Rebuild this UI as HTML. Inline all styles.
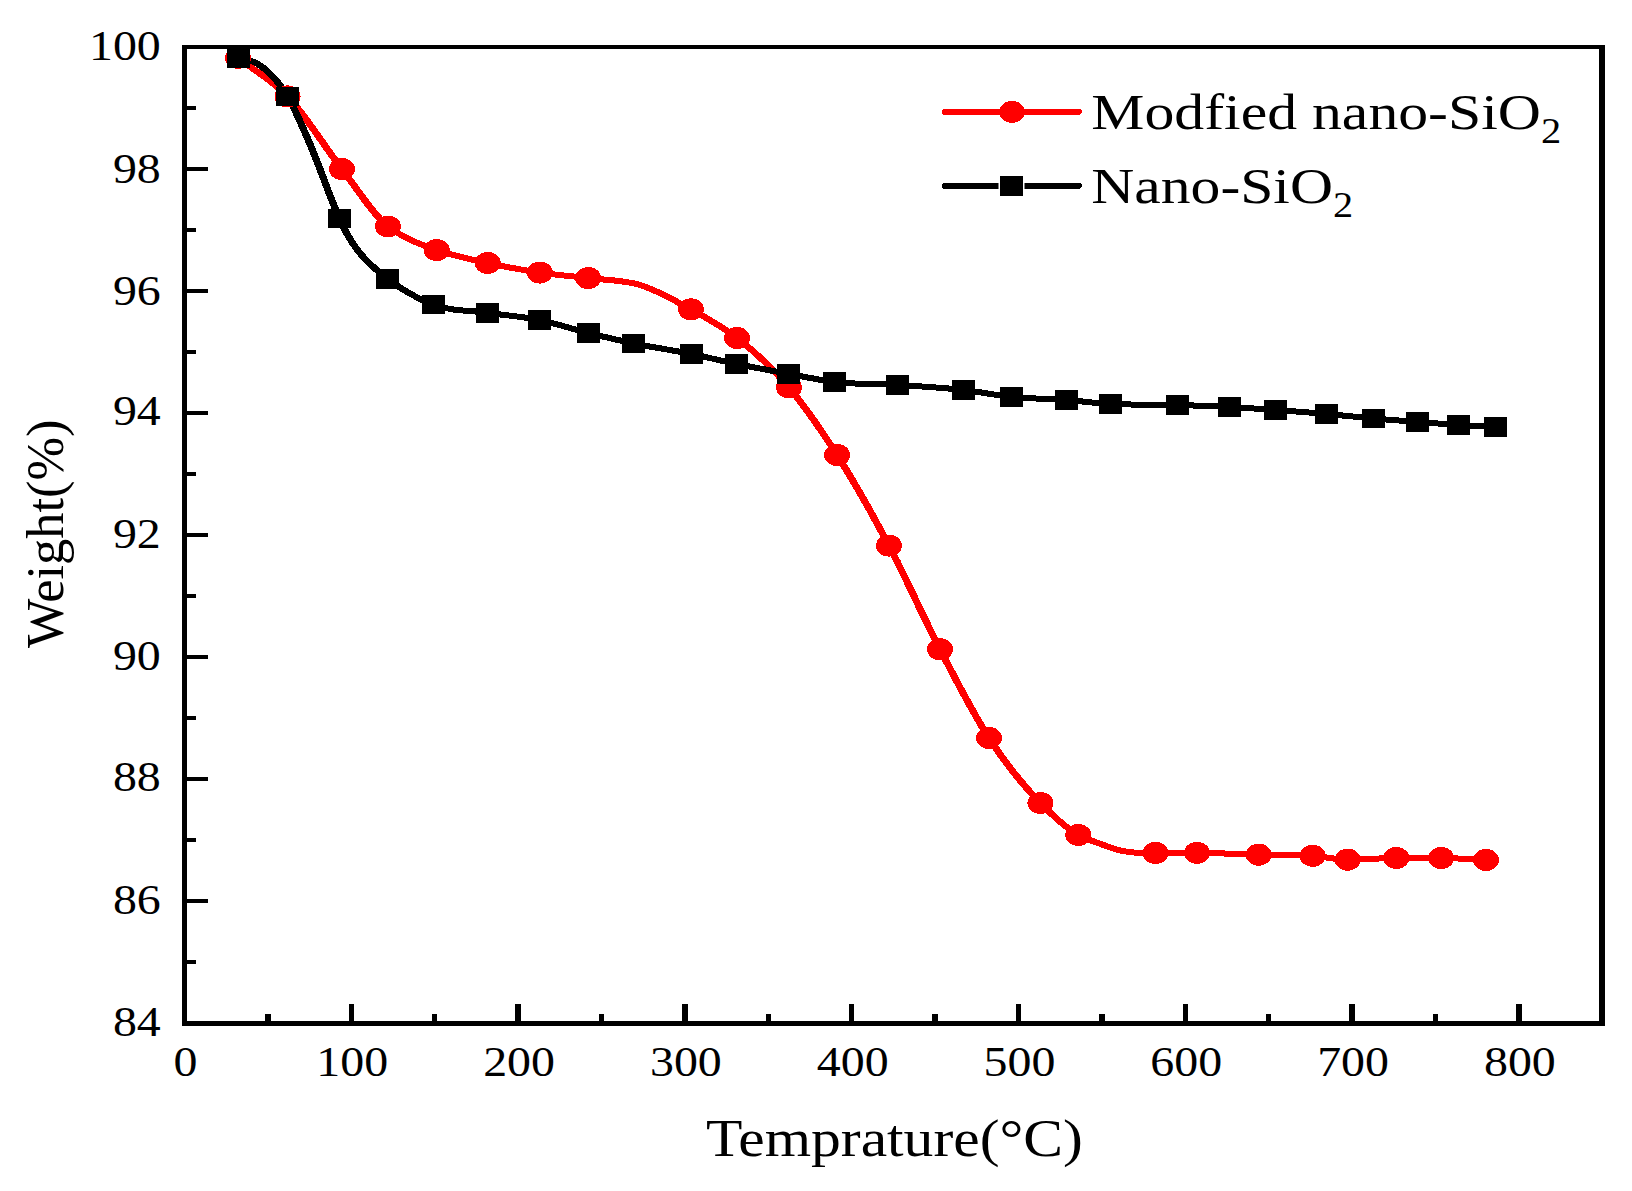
<!DOCTYPE html>
<html lang="en"><head><meta charset="utf-8"><title>TGA curves</title>
<style>html,body{margin:0;padding:0;background:#fff}body{width:1632px;height:1191px;overflow:hidden}svg{display:block}text{font-family:"Liberation Serif","Times New Roman",serif;fill:#000}</style>
</head><body>
<svg width="1632" height="1191" viewBox="0 0 1632 1191">
<rect x="0" y="0" width="1632" height="1191" fill="#fff"/>
<g transform="scale(1.2 1)" fill="none" stroke-width="6" stroke-linejoin="round" stroke-linecap="butt" shape-rendering="crispEdges">
<path stroke="#ff0000" d="M198.33 57.90 C212.11 70.73 225.89 79.14 239.67 96.40 C254.75 115.30 269.83 145.68 284.92 169.00 C297.72 188.80 310.53 214.07 323.33 226.50 C329.97 232.94 336.61 236.52 343.25 240.40 C350.17 244.45 357.08 247.24 364.00 250.10 C378.17 255.96 392.33 259.28 406.50 263.00 C420.94 266.80 435.39 270.04 449.83 272.60 C463.28 274.99 476.72 276.11 490.17 278.10 C504.56 280.23 518.94 279.70 533.33 285.00 C547.50 290.22 561.67 299.99 575.83 309.40 C588.61 317.89 601.39 326.09 614.17 338.00 C628.61 351.46 643.06 366.94 657.50 387.50 C670.86 406.52 684.22 429.86 697.58 455.00 C712.00 482.13 726.42 512.89 740.83 545.60 C755.00 577.74 769.17 616.67 783.33 649.30 C796.94 680.65 810.56 712.78 824.17 738.00 C838.44 764.45 852.72 785.48 867.00 803.00 C877.53 815.92 888.06 827.89 898.58 835.00 C904.69 839.13 910.81 841.11 916.92 843.80 C922.53 846.27 928.14 849.08 933.75 850.60 C939.33 852.11 944.92 852.90 950.50 852.90 C954.64 852.90 958.78 852.90 962.92 852.90 C974.44 852.90 985.97 852.90 997.50 852.90 C1014.64 852.90 1031.78 854.20 1048.92 854.70 C1063.89 855.14 1078.86 854.70 1093.83 855.80 C1103.58 856.52 1113.33 859.70 1123.08 859.70 C1136.58 859.70 1150.08 858.00 1163.58 858.00 C1176.03 858.00 1188.47 858.00 1200.92 858.00 C1213.39 858.00 1225.86 859.33 1238.33 860.00"/>
<path stroke="#000" d="M198.75 57.90 C204.11 59.90 209.47 59.95 214.83 63.90 C217.64 65.97 220.44 68.61 223.25 71.70 C225.69 74.39 228.14 77.34 230.58 80.90 C233.61 85.31 236.64 90.40 239.67 96.40 C246.08 109.12 252.50 128.01 258.92 145.80 C266.92 167.98 274.92 197.85 282.92 218.50 C285.03 223.95 287.14 229.45 289.25 234.10 C292.22 240.65 295.19 245.79 298.17 250.50 C300.97 254.94 303.78 258.33 306.58 261.80 C312.08 268.60 317.58 273.72 323.08 278.80 C335.81 290.56 348.53 298.98 361.25 304.70 C376.25 311.45 391.25 310.20 406.25 312.80 C420.67 315.30 435.08 316.47 449.50 320.00 C463.08 323.33 476.67 328.97 490.25 333.00 C502.81 336.73 515.36 340.25 527.92 343.40 C544.03 347.45 560.14 350.05 576.25 354.00 C588.83 357.08 601.42 360.89 614.00 364.00 C628.36 367.55 642.72 370.64 657.08 373.80 C669.89 376.62 682.69 380.11 695.50 382.00 C712.97 384.58 730.44 383.71 747.92 385.00 C766.25 386.35 784.58 387.47 802.92 390.00 C816.25 391.84 829.58 395.25 842.92 396.90 C858.19 398.79 873.47 398.62 888.75 400.00 C901.08 401.11 913.42 403.33 925.75 404.00 C944.11 405.00 962.47 404.38 980.83 405.00 C995.42 405.49 1010.00 406.08 1024.58 407.00 C1037.36 407.81 1050.14 408.91 1062.92 410.00 C1077.11 411.22 1091.31 412.51 1105.50 414.00 C1118.56 415.37 1131.61 417.13 1144.67 418.50 C1156.89 419.78 1169.11 420.90 1181.33 422.00 C1192.72 423.02 1204.11 424.05 1215.50 424.90 C1225.75 425.66 1236.00 426.23 1246.25 426.90"/>
</g>
<g fill="#ff0000" shape-rendering="crispEdges">
<ellipse cx="238" cy="57.9" rx="13" ry="11"/>
<ellipse cx="287.6" cy="96.4" rx="13" ry="11"/>
<ellipse cx="341.9" cy="169" rx="13" ry="11"/>
<ellipse cx="388" cy="226.5" rx="13" ry="11"/>
<ellipse cx="436.8" cy="250.1" rx="13" ry="11"/>
<ellipse cx="487.8" cy="263" rx="13" ry="11"/>
<ellipse cx="539.8" cy="272.6" rx="13" ry="11"/>
<ellipse cx="588.2" cy="278.1" rx="13" ry="11"/>
<ellipse cx="691" cy="309.4" rx="13" ry="11"/>
<ellipse cx="737" cy="338" rx="13" ry="11"/>
<ellipse cx="789" cy="387.5" rx="13" ry="11"/>
<ellipse cx="837.1" cy="455" rx="13" ry="11"/>
<ellipse cx="889" cy="545.6" rx="13" ry="11"/>
<ellipse cx="940" cy="649.3" rx="13" ry="11"/>
<ellipse cx="989" cy="738" rx="13" ry="11"/>
<ellipse cx="1040.4" cy="803" rx="13" ry="11"/>
<ellipse cx="1078.3" cy="835" rx="13" ry="11"/>
<ellipse cx="1155.5" cy="852.9" rx="13" ry="11"/>
<ellipse cx="1197" cy="852.9" rx="13" ry="11"/>
<ellipse cx="1258.7" cy="854.7" rx="13" ry="11"/>
<ellipse cx="1312.6" cy="855.8" rx="13" ry="11"/>
<ellipse cx="1347.7" cy="859.7" rx="13" ry="11"/>
<ellipse cx="1396.3" cy="858" rx="13" ry="11"/>
<ellipse cx="1441.1" cy="858" rx="13" ry="11"/>
<ellipse cx="1486" cy="860" rx="13" ry="11"/>
</g>
<g fill="#000" shape-rendering="crispEdges">
<rect x="227.00" y="48.15" width="23" height="19.5"/>
<rect x="276.10" y="86.65" width="23" height="19.5"/>
<rect x="328.00" y="208.75" width="23" height="19.5"/>
<rect x="376.20" y="269.05" width="23" height="19.5"/>
<rect x="422.00" y="294.95" width="23" height="19.5"/>
<rect x="476.00" y="303.05" width="23" height="19.5"/>
<rect x="527.90" y="310.25" width="23" height="19.5"/>
<rect x="576.80" y="323.25" width="23" height="19.5"/>
<rect x="622.00" y="333.65" width="23" height="19.5"/>
<rect x="680.00" y="344.25" width="23" height="19.5"/>
<rect x="725.30" y="354.25" width="23" height="19.5"/>
<rect x="777.00" y="364.05" width="23" height="19.5"/>
<rect x="823.10" y="372.25" width="23" height="19.5"/>
<rect x="886.00" y="375.25" width="23" height="19.5"/>
<rect x="952.00" y="380.25" width="23" height="19.5"/>
<rect x="1000.00" y="387.15" width="23" height="19.5"/>
<rect x="1055.00" y="390.25" width="23" height="19.5"/>
<rect x="1099.40" y="394.25" width="23" height="19.5"/>
<rect x="1165.50" y="395.25" width="23" height="19.5"/>
<rect x="1218.00" y="397.25" width="23" height="19.5"/>
<rect x="1264.00" y="400.25" width="23" height="19.5"/>
<rect x="1315.10" y="404.25" width="23" height="19.5"/>
<rect x="1362.10" y="408.75" width="23" height="19.5"/>
<rect x="1406.10" y="412.25" width="23" height="19.5"/>
<rect x="1447.10" y="415.15" width="23" height="19.5"/>
<rect x="1484.00" y="417.15" width="23" height="19.5"/>
</g>
<g fill="#000" shape-rendering="crispEdges">
<rect x="182" y="45" width="1423" height="4"/>
<rect x="182" y="1021" width="1423" height="5"/>
<rect x="182" y="45" width="5" height="981"/>
<rect x="1599" y="45" width="6" height="981"/>
<rect x="186" y="105.77" width="10" height="4.5"/>
<rect x="186" y="166.78" width="22" height="4.5"/>
<rect x="186" y="227.80" width="10" height="4.5"/>
<rect x="186" y="288.81" width="22" height="4.5"/>
<rect x="186" y="349.83" width="10" height="4.5"/>
<rect x="186" y="410.84" width="22" height="4.5"/>
<rect x="186" y="471.86" width="10" height="4.5"/>
<rect x="186" y="532.87" width="22" height="4.5"/>
<rect x="186" y="593.88" width="10" height="4.5"/>
<rect x="186" y="654.90" width="22" height="4.5"/>
<rect x="186" y="715.91" width="10" height="4.5"/>
<rect x="186" y="776.93" width="22" height="4.5"/>
<rect x="186" y="837.95" width="10" height="4.5"/>
<rect x="186" y="898.96" width="22" height="4.5"/>
<rect x="186" y="959.98" width="10" height="4.5"/>
<rect x="348.60" y="1004" width="5.4" height="18"/>
<rect x="515.40" y="1004" width="5.4" height="18"/>
<rect x="682.20" y="1004" width="5.4" height="18"/>
<rect x="849.00" y="1004" width="5.4" height="18"/>
<rect x="1015.80" y="1004" width="5.4" height="18"/>
<rect x="1182.60" y="1004" width="5.4" height="18"/>
<rect x="1349.40" y="1004" width="5.4" height="18"/>
<rect x="1516.20" y="1004" width="5.4" height="18"/>
<rect x="265.20" y="1014" width="5.4" height="8"/>
<rect x="432.00" y="1014" width="5.4" height="8"/>
<rect x="598.80" y="1014" width="5.4" height="8"/>
<rect x="765.60" y="1014" width="5.4" height="8"/>
<rect x="932.40" y="1014" width="5.4" height="8"/>
<rect x="1099.20" y="1014" width="5.4" height="8"/>
<rect x="1266.00" y="1014" width="5.4" height="8"/>
<rect x="1432.80" y="1014" width="5.4" height="8"/>
</g>
<g stroke-width="6.25" stroke-linecap="round" shape-rendering="crispEdges">
<line x1="945.2" y1="111.9" x2="1078.6" y2="111.9" stroke="#ff0000"/>
<line x1="945.2" y1="185.8" x2="1078.6" y2="185.8" stroke="#000"/>
</g>
<ellipse cx="1012" cy="111.9" rx="12.8" ry="11" fill="#ff0000" shape-rendering="crispEdges"/>
<rect x="998.5" y="174.5" width="26" height="22.5" fill="#fff"/>
<rect x="1000" y="176" width="23" height="19.8" fill="#000" shape-rendering="crispEdges"/>
<text id="yl0" transform="translate(160.8 60.3) scale(1.125 1)" font-size="42.6" text-anchor="end">100</text>
<text id="yl1" transform="translate(160.8 182.5) scale(1.125 1)" font-size="42.6" text-anchor="end">98</text>
<text id="yl2" transform="translate(160.8 304.6) scale(1.125 1)" font-size="42.6" text-anchor="end">96</text>
<text id="yl3" transform="translate(160.8 424.9) scale(1.125 1)" font-size="42.6" text-anchor="end">94</text>
<text id="yl4" transform="translate(160.8 547.9) scale(1.125 1)" font-size="42.6" text-anchor="end">92</text>
<text id="yl5" transform="translate(160.8 670) scale(1.125 1)" font-size="42.6" text-anchor="end">90</text>
<text id="yl6" transform="translate(160.8 791.2) scale(1.125 1)" font-size="42.6" text-anchor="end">88</text>
<text id="yl7" transform="translate(160.8 913.5) scale(1.125 1)" font-size="42.6" text-anchor="end">86</text>
<text id="yl8" transform="translate(160.8 1036.2) scale(1.125 1)" font-size="42.6" text-anchor="end">84</text>
<text id="xl0" transform="translate(185.5 1075.8) scale(1.125 1)" font-size="42.6" text-anchor="middle">0</text>
<text id="xl1" transform="translate(352.3 1075.8) scale(1.125 1)" font-size="42.6" text-anchor="middle">100</text>
<text id="xl2" transform="translate(519.1 1075.8) scale(1.125 1)" font-size="42.6" text-anchor="middle">200</text>
<text id="xl3" transform="translate(685.9 1075.8) scale(1.125 1)" font-size="42.6" text-anchor="middle">300</text>
<text id="xl4" transform="translate(852.7 1075.8) scale(1.125 1)" font-size="42.6" text-anchor="middle">400</text>
<text id="xl5" transform="translate(1019.5 1075.8) scale(1.125 1)" font-size="42.6" text-anchor="middle">500</text>
<text id="xl6" transform="translate(1186.3 1075.8) scale(1.125 1)" font-size="42.6" text-anchor="middle">600</text>
<text id="xl7" transform="translate(1353.1 1075.8) scale(1.125 1)" font-size="42.6" text-anchor="middle">700</text>
<text id="xl8" transform="translate(1519.9 1075.8) scale(1.125 1)" font-size="42.6" text-anchor="middle">800</text>
<text id="xt" transform="translate(706 1155.8) scale(1.146 1)" font-size="52" text-anchor="start">Temprature(°C)</text>
<text id="yt" transform="translate(63.3 648) rotate(-90) scale(1 1.015)" font-size="52.4">Weight(%)</text>
<text id="lg1" transform="translate(1091.3 128.8) scale(1.156 1)" font-size="51.7">Modfied nano-SiO<tspan font-size="35" dy="14.2">2</tspan></text>
<text id="lg2" transform="translate(1091.3 203) scale(1.153 1)" font-size="51.7">Nano-SiO<tspan font-size="35" dy="14">2</tspan></text>
</svg>
</body></html>
